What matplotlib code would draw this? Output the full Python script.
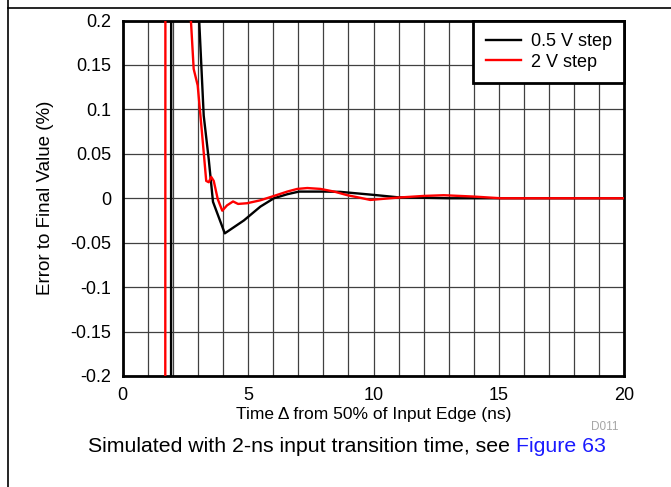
import numpy as np
import matplotlib
matplotlib.use("Agg")
import matplotlib.pyplot as plt
from matplotlib.lines import Line2D

plt.rcParams['font.family'] = ['Liberation Sans', 'DejaVu Sans']

# 0.5 V step: time (ns) and error to final value (%)
t_small = [1.92, 1.94, 3.02, 3.05, 3.23, 3.43, 3.6, 4.07, 4.83, 5.49, 6.03,
           6.56, 7.03, 8.03, 8.67, 10.0, 11.0, 12.0, 13.0, 15.0, 20.0]
err_small = [-1.0, 1.0, 0.3, 0.2, 0.093, 0.044, -0.004, -0.0395, -0.025, -0.0094, 0.0,
             0.0045, 0.0075, 0.0075, 0.0072, 0.0038, 0.001, 0.0005, 0.0, 0.0, 0.0]

# 2 V step
t_large = [1.69, 1.71, 2.68, 2.72, 2.83, 2.99, 3.16, 3.33, 3.43, 3.53, 3.63,
           3.79, 3.97, 4.16, 4.4, 4.6, 4.96, 5.49, 6.03, 6.56, 6.96, 7.36,
           7.89, 8.43, 8.96, 9.49, 9.87, 11.0, 12.0, 12.8, 14.0, 15.07, 20.0]
err_large = [-1.0, 1.0, 0.25, 0.2, 0.1455, 0.127, 0.074, 0.0195, 0.018, 0.024, 0.0195,
             -0.001, -0.014, -0.008, -0.0036, -0.0064, -0.0056, -0.0023, 0.0026, 0.0075, 0.0105, 0.0115,
             0.0105, 0.0075, 0.0034, 0.0004, -0.0019, 0.0008, 0.0026, 0.0034, 0.0019, 0.0, 0.0]

x_ticks = [0, 5, 10, 15, 20]
y_ticks = [-0.2, -0.15, -0.1, -0.05, 0, 0.05, 0.1, 0.15, 0.2]
y_tick_labels = ['-0.2', '-0.15', '-0.1', '-0.05', '0', '0.05', '0.1', '0.15', '0.2']

W, H = 671, 487
fig = plt.figure(figsize=(W / 100, H / 100), dpi=100)
ax = fig.add_axes([122.7 / W, 1 - 376 / H, 501.6 / W, 355.5 / H])

ax.plot(t_small, err_small, color='black', lw=1.7, label='0.5 V step', zorder=3)
ax.plot(t_large, err_large, color='red', lw=1.7, label='2 V step', zorder=4)

ax.set_xlim(0, 20)
ax.set_ylim(-0.2, 0.2)
ax.set_xticks(x_ticks)
ax.set_xticks(np.arange(0, 21, 1), minor=True)
ax.set_yticks(y_ticks)
ax.set_yticklabels(y_tick_labels)
ax.tick_params(which='both', length=0, labelsize=13)
ax.tick_params(axis='x', pad=8)
ax.tick_params(axis='y', pad=8)
ax.grid(which='both', color='0.25', lw=0.9)
ax.set_axisbelow(True)
for s in ax.spines.values():
    s.set_linewidth(2.0)

ax.set_xlabel('Time \u0394 from 50% of Input Edge (ns)', fontsize=12.5)
ax.xaxis.set_label_coords(0.5, -(414 - 376) / 355.5)
ax.xaxis.label.set_va('center')
ax.set_ylabel('Error to Final Value (%)', fontsize=13.5)
ax.yaxis.set_label_coords((46 - 122.7) / 501.6, 0.5)
ax.yaxis.label.set_va('center')

leg = ax.legend(loc='upper right', fontsize=13, fancybox=False, framealpha=1,
                edgecolor='black', borderaxespad=0, handlelength=1.95,
                handletextpad=0.55, labelspacing=0.2, borderpad=0.7)
leg.get_frame().set_linewidth(2.0)

# frame of the page
fig.add_artist(Line2D([7.5 / W, 1], [1 - 8.3 / H, 1 - 8.3 / H], color='black', lw=1.2))
fig.add_artist(Line2D([8.3 / W, 8.3 / W], [0, 1], color='black', lw=1.2))

fig.text(605 / W, 1 - 427 / H, 'D011', fontsize=8.5, color='0.65', ha='center', va='center')
cap = fig.text(88 / W, 1 - 447 / H, 'Simulated with 2-ns input transition time, see ',
               fontsize=15.3, ha='left', va='center')
ax.annotate('Figure 63', xy=(1, 0), xycoords=cap, fontsize=15.3, color='#1a1aff',
            ha='left', va='bottom', annotation_clip=False)

fig.savefig('out.png', dpi=100)
